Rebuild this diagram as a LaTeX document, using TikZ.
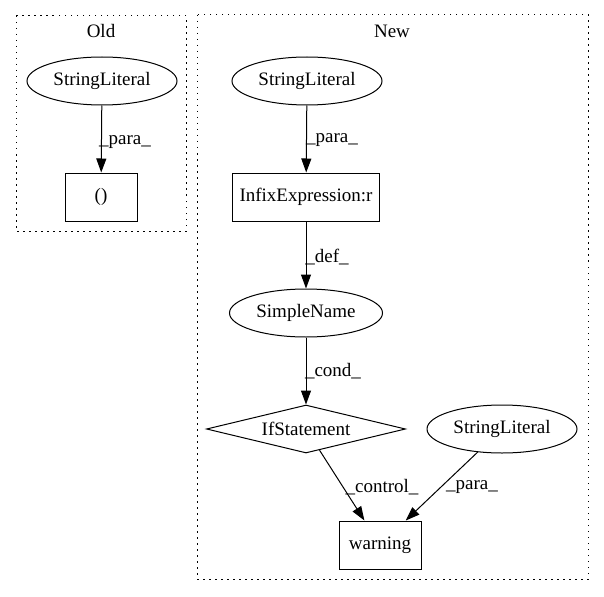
\documentclass[tikz,border=0pt]{standalone}
\usepackage{fontspec}
\setmainfont{Liberation Serif}
\usetikzlibrary{shapes.geometric,arrows.meta}
\begin{document}
\begin{tikzpicture}[x=1pt,y=-1pt,
  font=\fontsize{19}{22}\selectfont,
  every node/.style={inner sep=0pt},
  ell/.style={draw, ellipse, line width=1pt, minimum width=150pt, minimum height=48pt},
  box/.style={draw, rectangle, line width=1pt, minimum height=48pt},
  dia/.style={draw, diamond, aspect=4, line width=1pt, minimum width=199pt, minimum height=48pt},
  cluster/.style={line width=1pt, dash pattern=on 1.5pt off 4.5pt},
  edge/.style={line width=1pt, -{Triangle[length=14pt,width=10pt]}},
  lbl/.style={font=\fontsize{19}{22}\selectfont}]
\useasboundingbox (0,0) rectangle (604,596);
% clusters
\draw[cluster] (16,16) rectangle (186,231);
\draw[cluster] (197,15) rectangle (588,579);
\node[lbl] (oldlbl) at (101,31) {Old};
\node[lbl] (newlbl) at (392,31) {New};
% Old
\node[ell] (sl1) at (102,81) {StringLiteral};
\node[box, minimum width=72pt] (paren) at (101,197) {()};
\draw[edge] (sl1) -- (paren);
\node[lbl] (l1) at (125,142) {\_para\_};
% New
\node[ell] (sl2) at (307,81) {StringLiteral};
\node[box, minimum width=147pt] (infix) at (306,197) {InfixExpression:r};
\node[ell, minimum width=153pt] (sn) at (306,313) {SimpleName};
\node[dia] (ifs) at (306,429) {IfStatement};
\node[ell] (sl3) at (502,429) {StringLiteral};
\node[box, minimum width=82pt] (warn) at (380,545) {warning};
\draw[edge] (sl2) -- (infix);
\draw[edge] (infix) -- (sn);
\draw[edge] (sn) -- (ifs);
\draw[edge] (ifs) -- (warn);
\draw[edge] (sl3) -- (warn);
\node[lbl] (l2) at (332,140) {\_para\_};
\node[lbl] (l3) at (327,257) {\_def\_};
\node[lbl] (l4) at (333,371) {\_cond\_};
\node[lbl] (l5) at (382,487) {\_control\_};
\node[lbl] (l6) at (472,487) {\_para\_};
\end{tikzpicture}
\end{document}
